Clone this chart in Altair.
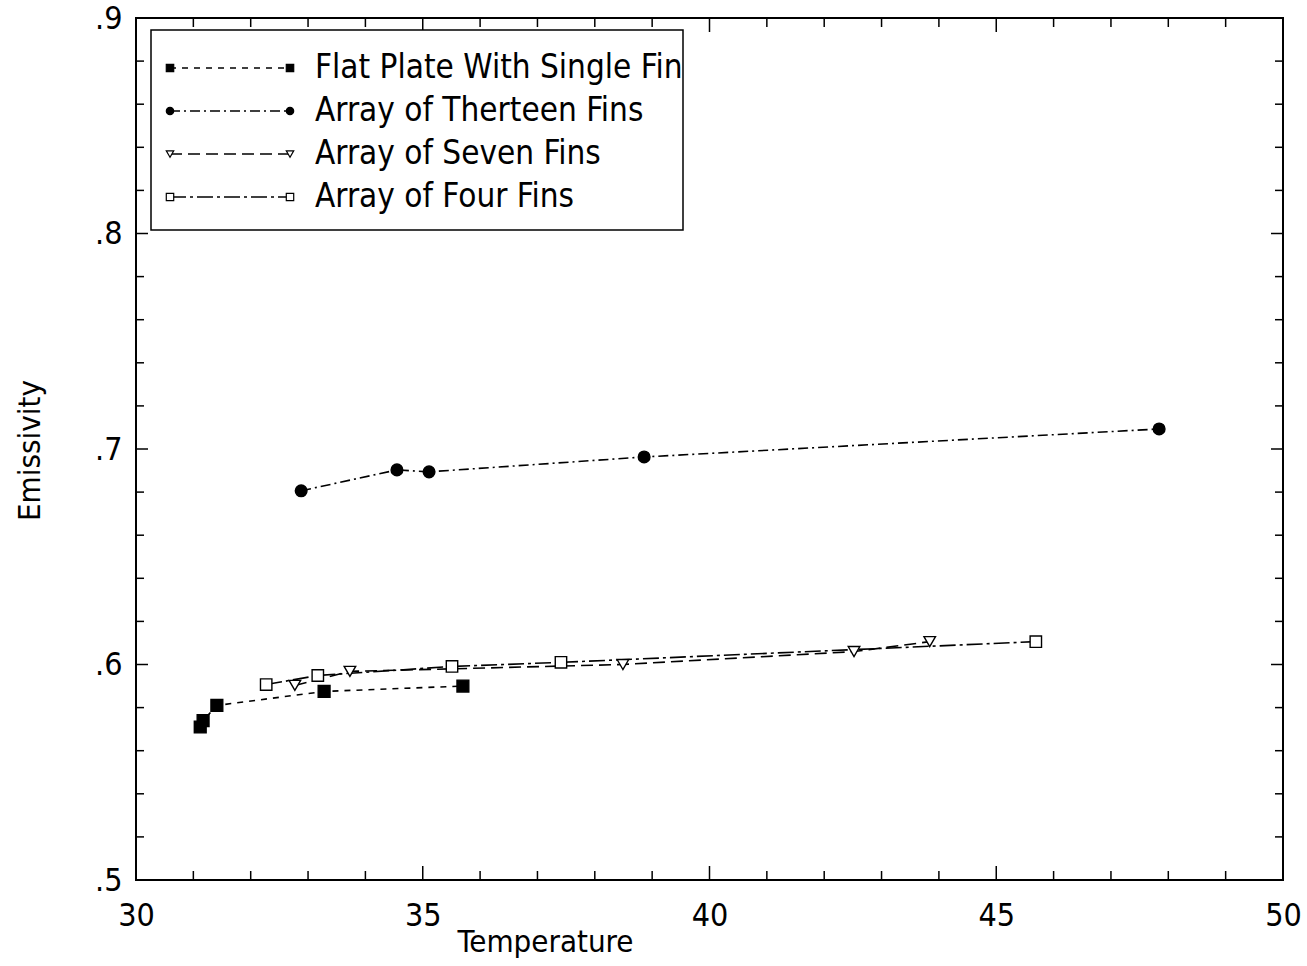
import altair as alt
import pandas as pd

series = ["Flat Plate With Single Fin", "Array of Therteen Fins",
          "Array of Seven Fins", "Array of Four Fins"]

flat_x = [31.12, 31.17, 31.41, 33.28, 35.70]
flat_y = [0.571, 0.574, 0.581, 0.5875, 0.590]
thirteen_x = [32.88, 34.55, 35.11, 38.86, 47.84]
thirteen_y = [0.6806, 0.6903, 0.6894, 0.6963, 0.7093]
seven_x = [32.77, 33.73, 38.49, 42.52, 43.84]
seven_y = [0.5903, 0.5968, 0.6000, 0.6060, 0.6106]
four_x = [32.27, 33.17, 35.51, 37.41, 45.69]
four_y = [0.5907, 0.5949, 0.5991, 0.6010, 0.6106]

x_labels = [30, 35, 40, 45, 50]
y_labels = [0.5, 0.6, 0.7, 0.8, 0.9]
x_minor = [31, 32, 33, 34, 36, 37, 38, 39, 41, 42, 43, 44, 46, 47, 48, 49]
x_major = [35, 40, 45]
y_minor = [0.52, 0.54, 0.56, 0.58, 0.62, 0.64, 0.66, 0.68,
           0.72, 0.74, 0.76, 0.78, 0.82, 0.84, 0.86, 0.88]
y_major = [0.6, 0.7, 0.8]

W, H = 1147, 862
FONT = "Liberation Sans Narrow, DejaVu Sans Condensed, Arial Narrow, sans-serif"

rows = []
for name, xs, ys in [(series[0], flat_x, flat_y), (series[1], thirteen_x, thirteen_y),
                     (series[2], seven_x, seven_y), (series[3], four_x, four_y)]:
    for a, b in zip(xs, ys):
        rows.append({"series": name, "x": a, "y": b})
df = pd.DataFrame(rows)

xscale = alt.Scale(domain=[30, 50], nice=False, zero=False)
yscale = alt.Scale(domain=[0.5, 0.9], nice=False, zero=False)
dash_scale = alt.Scale(domain=series, range=[[6, 6], [10, 4, 2, 4], [12, 6], [16, 4, 3, 4]])
shape_scale = alt.Scale(domain=series, range=["square", "circle", "triangle-down", "square"])
fill_scale = alt.Scale(domain=series, range=["black", "black", "white", "white"])
size_scale = alt.Scale(domain=series, range=[140, 130, 70, 80])

x_axis = alt.Axis(values=x_labels, format="d", tickSize=0, domain=False, grid=False,
                  labelFlush=False, labelOverlap=False,
                  labelFontSize=32, labelPadding=20, labelFont=FONT, labelColor="black",
                  title="Temperature", titleFont=FONT, titleFontSize=31,
                  titleFontWeight="normal", titleColor="black",
                  titleX=409, titleY=62, titleAlign="center", titleBaseline="middle")
y_axis = alt.Axis(values=y_labels, tickSize=0, domain=False, grid=False,
                  labelFlush=False, labelOverlap=False,
                  labelExpr="replace(format(datum.value, '.1f'), '0.', '.')",
                  labelFontSize=32, labelPadding=14, labelFont=FONT, labelColor="black",
                  title="Emissivity", titleFont=FONT, titleFontSize=31,
                  titleFontWeight="normal", titleColor="black",
                  titleX=-106, titleY=432, titleAlign="center", titleBaseline="middle")

lines = alt.Chart(df).mark_line(color="black", strokeWidth=1.6).encode(
    x=alt.X("x:Q", scale=xscale, axis=x_axis),
    y=alt.Y("y:Q", scale=yscale, axis=y_axis),
    strokeDash=alt.StrokeDash("series:N", scale=dash_scale, legend=None),
    detail="series:N",
)
points = alt.Chart(df).mark_point(filled=True, stroke="black", strokeWidth=1.4, opacity=1).encode(
    x=alt.X("x:Q", scale=xscale),
    y=alt.Y("y:Q", scale=yscale),
    shape=alt.Shape("series:N", scale=shape_scale, legend=None),
    fill=alt.Fill("series:N", scale=fill_scale, legend=None),
    size=alt.Size("series:N", scale=size_scale, legend=None),
)

xt_min = pd.DataFrame({"x": x_minor})
xt_maj = pd.DataFrame({"x": x_major})
yt_min = pd.DataFrame({"y": y_minor})
yt_maj = pd.DataFrame({"y": y_major})

def xticks(d, ln):
    bot = alt.Chart(d).mark_rule(color="black", strokeWidth=1.5).encode(
        x=alt.X("x:Q", scale=xscale), y=alt.value(H), y2=alt.value(H - ln))
    top = alt.Chart(d).mark_rule(color="black", strokeWidth=1.5).encode(
        x=alt.X("x:Q", scale=xscale), y=alt.value(0), y2=alt.value(ln))
    return [bot, top]

def yticks(d, ln):
    left = alt.Chart(d).mark_rule(color="black", strokeWidth=1.5).encode(
        y=alt.Y("y:Q", scale=yscale), x=alt.value(0), x2=alt.value(ln))
    right = alt.Chart(d).mark_rule(color="black", strokeWidth=1.5).encode(
        y=alt.Y("y:Q", scale=yscale), x=alt.value(W - ln), x2=alt.value(W))
    return [left, right]

tick_layers = xticks(xt_min, 9) + xticks(xt_maj, 14) + yticks(yt_min, 8) + yticks(yt_maj, 12)

main = alt.layer(lines, points, *tick_layers)

# legend
leg_df = pd.DataFrame({"series": series})
box = alt.Chart(pd.DataFrame({"a": [0]})).mark_rect(
    fill="white", stroke="black", strokeWidth=1.5).encode(
    x=alt.value(15), x2=alt.value(547), y=alt.value(12), y2=alt.value(212))
row_y = alt.Y("series:N", scale=alt.Scale(type="point", domain=series, range=[50, 179], padding=0),
              axis=None)
leg_line = alt.Chart(leg_df).mark_rule(color="black", strokeWidth=1.4).encode(
    y=row_y, x=alt.value(34), x2=alt.value(154),
    strokeDash=alt.StrokeDash("series:N", scale=dash_scale, legend=None))
leg_p1 = alt.Chart(leg_df).mark_point(filled=True, stroke="black", strokeWidth=1.2, opacity=1).encode(
    y=row_y, x=alt.value(34), size=alt.value(55),
    shape=alt.Shape("series:N", scale=shape_scale, legend=None),
    fill=alt.Fill("series:N", scale=fill_scale, legend=None))
leg_p2 = alt.Chart(leg_df).mark_point(filled=True, stroke="black", strokeWidth=1.2, opacity=1).encode(
    y=row_y, x=alt.value(154), size=alt.value(55),
    shape=alt.Shape("series:N", scale=shape_scale, legend=None),
    fill=alt.Fill("series:N", scale=fill_scale, legend=None))
leg_text = alt.Chart(leg_df).mark_text(align="left", baseline="middle", fontSize=33,
                                       font=FONT, color="black").encode(
    y=row_y, x=alt.value(179), text="series:N")
legend = alt.layer(box, leg_line, leg_p1, leg_p2, leg_text)

chart = alt.layer(main, legend).resolve_scale(y="independent").properties(
    width=W, height=H,
    autosize=alt.AutoSizeParams(type="none"),
    padding={"left": 136, "top": 18, "right": 24, "bottom": 86},
    background="white",
).configure_view(stroke="black", strokeWidth=2)

chart.save("out.html", embed_options={"renderer": "svg", "actions": False})
